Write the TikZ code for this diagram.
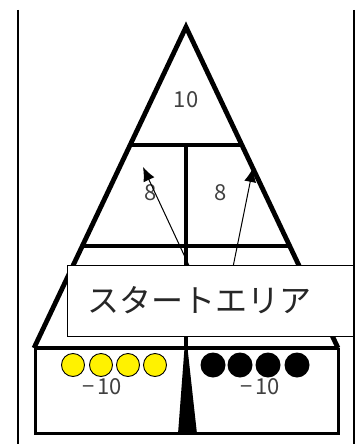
\documentclass[tikz,border=0pt]{standalone}
\usepackage{fontspec}
\setmainfont{Noto Sans CJK JP}
\usetikzlibrary{arrows.meta}
\definecolor{txtgray}{HTML}{404040}
\tikzset{
  thick line/.style={line width=4.8pt, line join=miter},
  side line/.style={line width=2pt},
  num/.style={text=txtgray, font=\fontsize{22}{24}\selectfont, inner sep=0pt},
  pointer/.style={line width=1pt, -{Latex[length=14pt,width=12pt]}},
  yellowdot/.style={circle, draw=black, line width=0.9pt, fill=yellow, minimum size=23pt, inner sep=0pt},
  blackdot/.style={circle, fill=black, minimum size=25pt, inner sep=0pt},
}
\begin{document}
\begin{tikzpicture}[x=1pt,y=-1pt]
\useasboundingbox (0,0) rectangle (355,444);
% side lines
\draw[side line] (18,10) -- (18,444);
\draw[side line] (354,10) -- (354,444);
% triangle
\coordinate (apex) at (186,27);
\coordinate (bl) at (34,348);
\coordinate (br) at (338,348);
\draw[thick line] (bl) -- (apex) -- (br);
\draw[line width=4.2pt] (130,145) -- (242,145);
\draw[line width=4.2pt] (82,246) -- (290,246);
\draw[line width=4.2pt] (186,145) -- (186,348);
% labels
\node[num] (l10) at (186,100) {10};
\node[num] (l8a) at (151,193) {8};
\node[num] (l8b) at (221,193) {8};
% arrows
\coordinate (s1) at (192,272);
\coordinate (t1) at (143,167);
\coordinate (s2) at (232,272);
\coordinate (t2) at (253,168);
\draw[pointer] (s1) -- (t1);
\draw[pointer] (s2) -- (t2);
% start box
\node[draw=black, line width=1pt, fill=white, minimum width=286pt, minimum height=71pt, inner sep=0pt] (start) at (210.3,301.2) {};
\node[inner sep=0pt, font=\fontsize{32}{34}\selectfont, text=black!85] (starttext) at (199,300) {スタートエリア};
% bottom rectangle
\draw[line width=3pt] (35,348) -- (35,433) -- (338,433) -- (338,348);
\draw[line width=4.5pt] (bl) -- (br);
\fill (184.5,348) -- (187.5,348) -- (197,434) -- (178,434) -- cycle;
% dots
\node[yellowdot] (y1) at (73,365) {};
\node[yellowdot] (y2) at (101,365) {};
\node[yellowdot] (y3) at (128,365) {};
\node[yellowdot] (y4) at (155,365) {};
\node[blackdot] (b1) at (213,365) {};
\node[blackdot] (b2) at (240,365) {};
\node[blackdot] (b3) at (268,365) {};
\node[blackdot] (b4) at (297,365) {};
\node[num] (m1) at (102,387) {−\hspace{3pt}10};
\node[num] (m2) at (260,387) {−\hspace{3pt}10};
\end{tikzpicture}
\end{document}
